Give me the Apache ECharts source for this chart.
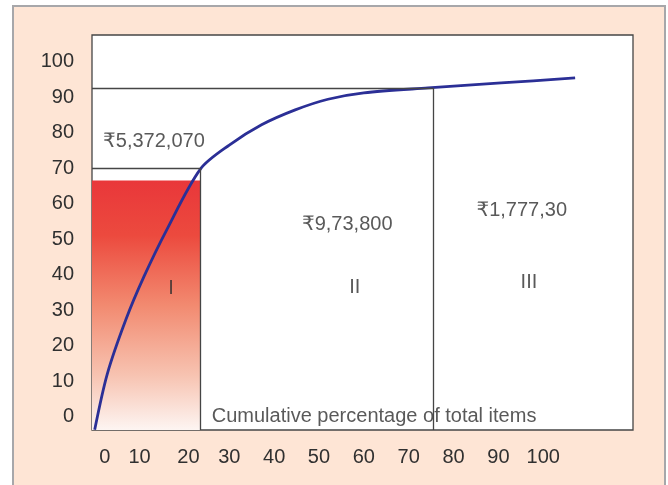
<!DOCTYPE html>
<html>
<head>
<meta charset="utf-8">
<script src="https://cdn.jsdelivr.net/npm/echarts@6/dist/echarts.min.js"></script>
<style>
  html, body { margin: 0; padding: 0; width: 668px; height: 485px; overflow: hidden; background: #fff; }
  .frame {
    position: absolute; left: 12px; top: 5px; width: 650px; height: 500px;
    background: #fee5d5; border-left: 2px solid #a7a7aa; border-right: 2px solid #a7a7aa; border-top: 2px solid #a7a7aa;
  }
  #chart { position: absolute; left: 0; top: 0; width: 668px; height: 485px; }
</style>
</head>
<body>
<div class="frame"></div>
<div id="chart"></div>
<script>
// cumulative % of items (x) vs cumulative % of value (y)
const curveX = [0, 2.8, 7.0, 11.0, 16.0, 23.6, 30.0, 37.2, 44.7, 52.0, 60.0, 74.3, 90.6, 107.1]
const curveY = [-3.7, 12.0, 27.5, 39.5, 52.5, 69.8, 76.5, 82.2, 86.4, 89.4, 91.2, 92.6, 94.0, 95.4]

const xTicks = [0, 10, 20, 30, 40, 50, 60, 70, 80, 90, 100]
const yTicks = [0, 10, 20, 30, 40, 50, 60, 70, 80, 90, 100]

// class boundaries: A ends at 23.6% items / 70% value, B at 75.4% / 92.6%
const boundX = [23.6, 75.4]
const boundY = [70, 92.6]
const fillTop = 66.5

const noteText = ['₹5,372,070', '₹9,73,800', '₹1,777,30', 'I', 'II', 'III', 'Cumulative percentage of total items']
const noteX = [13.2, 56.3, 95.2, 17.0, 58.0, 96.8, 26.1]
const noteY = [77.4, 54.0, 58.2, 36.2, 36.3, 37.7, 0]

const xMin = -0.6, xMax = 120
const yMin = -3.75, yMax = 107.5
const font = "'Liberation Sans', 'DejaVu Sans', sans-serif"
const ink = '#303030'
const rule = '#454545'

const chart = echarts.init(document.getElementById('chart'))

const notes = noteText.map((t, i) => ({
  value: [noteX[i], noteY[i]],
  name: t,
  label: i === 6 ? { align: 'left' } : {}
}))

const options = {
  animation: false,
  backgroundColor: 'transparent',
  grid: {
    left: 92, top: 35, right: 35, bottom: 55,
    show: true, backgroundColor: '#fff', borderColor: rule, borderWidth: 1.3
  },
  xAxis: {
    type: 'value', min: xMin, max: xMax,
    axisLine: { show: false }, axisTick: { show: false }, splitLine: { show: false },
    axisLabel: {
      customValues: xTicks, margin: 17, fontSize: 20, color: ink, fontFamily: font,
      formatter: v => v === 0 ? '{z|0}' : v === 20 ? '{t|20}' : String(v),
      rich: {
        z: { fontSize: 20, color: ink, fontFamily: font, padding: [0, 0, 0, 20] },
        t: { fontSize: 20, color: ink, fontFamily: font, padding: [0, 0, 0, 8] }
      }
    }
  },
  yAxis: {
    type: 'value', min: yMin, max: yMax,
    axisLine: { show: false }, axisTick: { show: false }, splitLine: { show: false },
    axisLabel: { customValues: yTicks, margin: 18, fontSize: 20, color: ink, fontFamily: font }
  },
  series: [
    {
      type: 'line', data: [], z: 1, silent: true,
      markArea: {
        silent: true,
        itemStyle: {
          color: {
            type: 'linear', x: 0, y: 0, x2: 0, y2: 1,
            colorStops: [
              { offset: 0, color: '#e9373a' },
              { offset: 0.22, color: '#ec4a3e' },
              { offset: 0.5, color: '#f28a70' },
              { offset: 0.78, color: '#f7c3b1' },
              { offset: 1, color: '#fdf5f2' }
            ]
          }
        },
        data: [[{ coord: [xMin, yMin] }, { coord: [boundX[0], fillTop] }]]
      },
      markLine: {
        silent: true, symbol: 'none',
        label: { show: false },
        lineStyle: { color: rule, width: 1.3, type: 'solid' },
        data: [
          [{ coord: [xMin, boundY[0]] }, { coord: [boundX[0], boundY[0]] }],
          [{ coord: [boundX[0], boundY[0]] }, { coord: [boundX[0], yMin] }],
          [{ coord: [xMin, boundY[1]] }, { coord: [boundX[1], boundY[1]] }],
          [{ coord: [boundX[1], boundY[1]] }, { coord: [boundX[1], yMin] }]
        ]
      }
    },
    {
      type: 'line', z: 3,
      data: curveX.map((x, i) => [x, curveY[i]]),
      smooth: 0.3, symbol: 'none',
      lineStyle: { color: '#2b2f96', width: 2.8 }
    },
    {
      type: 'scatter', z: 4, symbolSize: 0, silent: true,
      data: notes,
      label: {
        show: true, position: 'inside', formatter: p => p.name,
        fontSize: 20, color: ink, fontFamily: font
      }
    }
  ]
}

chart.setOption(options)
</script>
</body>
</html>
